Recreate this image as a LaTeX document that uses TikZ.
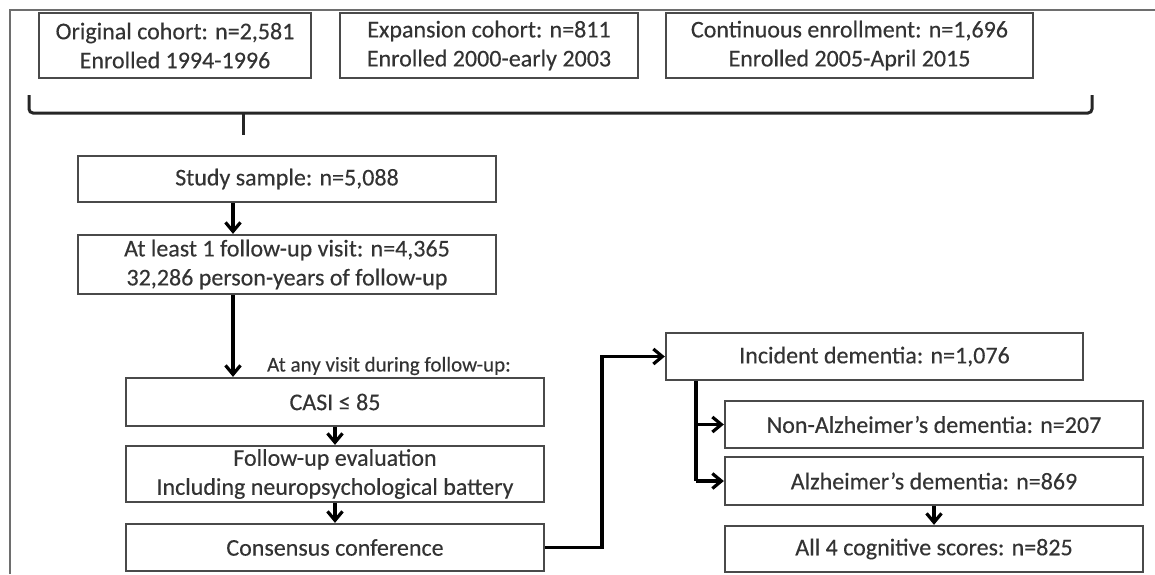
\documentclass[tikz,border=0pt]{standalone}
\usepackage{fontspec}
\setmainfont{Carlito}
\newfontfamily\boxfont{Carlito}[FakeBold=0.3]
\usetikzlibrary{arrows.meta}
\definecolor{boxgray}{HTML}{4A4A4A}
\definecolor{txtgray}{HTML}{333333}
\definecolor{framegray}{HTML}{6E6E6E}

\begin{document}
\begin{tikzpicture}[x=1pt,y=-1pt]
		\tikzstyle{box}=[draw=boxgray,line width=2.3pt,text=txtgray,inner sep=0pt,align=center,font=\boxfont\fontsize{24}{29}\selectfont]
		\tikzstyle{note}=[text=txtgray,inner sep=0pt,font=\boxfont\fontsize{21}{25}\selectfont]
		\tikzstyle{arr}=[line width=3.2pt,-{Straight Barb[length=9pt,width=15pt]}]
		\tikzstyle{brace}=[line width=3pt,draw=black!85,rounded corners=4pt]
		\tikzstyle{frame}=[line width=2pt,draw=framegray]
		
		\useasboundingbox (0,0) rectangle (1155,574);
		\draw[frame] (10,574) -- (10,9.5) -- (1155,9.5);
		
		% cohorts
		\node [box,minimum width=272pt,minimum height=65pt] (orig) at (175,45.5) {Original cohort: n=2,581\\Enrolled 1994-1996};
		\node [box,minimum width=298pt,minimum height=65pt] (expan) at (489,45.5) {Expansion cohort: n=811\\Enrolled 2000-early 2003};
		\node [box,minimum width=367pt,minimum height=65pt] (cont) at (849.5,45.5) {Continuous enrollment: n=1,696\\Enrolled 2005-April 2015};
		
		\coordinate (bl) at (29,95);
		\coordinate (br) at (1092,95);
		\coordinate (bm) at (243,113);
		\coordinate (bt) at (243,135);
		\draw[brace] (bl) |- (bm) -| (br);
		\draw[brace] (bm) -- (bt);
		
		% main column
		\node [box,minimum width=418pt,minimum height=46pt] (study) at (287,179) {Study sample: n=5,088};
		\node [box,minimum width=418pt,minimum height=59pt] (least) at (287,264.5) {At least 1 follow-up visit: n=4,365\\32,286 person-years of follow-up};
		\node [note] (visit) at (389,366) {At any visit during follow-up:};
		\node [box,minimum width=418pt,minimum height=48pt] (casi) at (335,402) {CASI ≤ 85};
		\node [box,minimum width=418pt,minimum height=56pt] (follow) at (335,474) {Follow-up evaluation\\Including neuropsychological battery};
		\node [box,minimum width=418pt,minimum height=47pt] (conf) at (335,547.5) {Consensus conference};
		
		% outcomes
		\node [box,minimum width=417pt,minimum height=47pt] (incid) at (874.5,356.5) {Incident dementia: n=1,076};
		\node [box,minimum width=418pt,minimum height=47pt] (nonalz) at (934,424.5) {Non-Alzheimer’s dementia: n=207};
		\node [box,minimum width=418pt,minimum height=48pt] (alz) at (934,481) {Alzheimer’s dementia: n=869};
		\node [box,minimum width=418pt,minimum height=46pt] (allfour) at (934,549) {All 4 cognitive scores: n=825};
		
		\coordinate (colA) at (233,0);
		\coordinate (elbow) at (602,0);
		\coordinate (branch) at (696,0);
		
		\draw[arr] (study.south -| colA) -- (least.north -| colA);
		\draw[arr] (least.south -| colA) -- (casi.north -| colA);
		\draw[arr] (casi) -- (follow);
		\draw[arr] (follow) -- (conf);
		\draw[arr] (conf.east) -- (conf.east -| elbow) |- (incid.west);
		\draw[line width=3.2pt] (incid.south -| branch) -- (alz.west -| branch);
		\draw[arr] (nonalz.west -| branch) -- (nonalz.west);
		\draw[arr] (alz.west -| branch) -- (alz.west);
		\draw[arr] (alz) -- (allfour);
\end{tikzpicture}
\end{document}
